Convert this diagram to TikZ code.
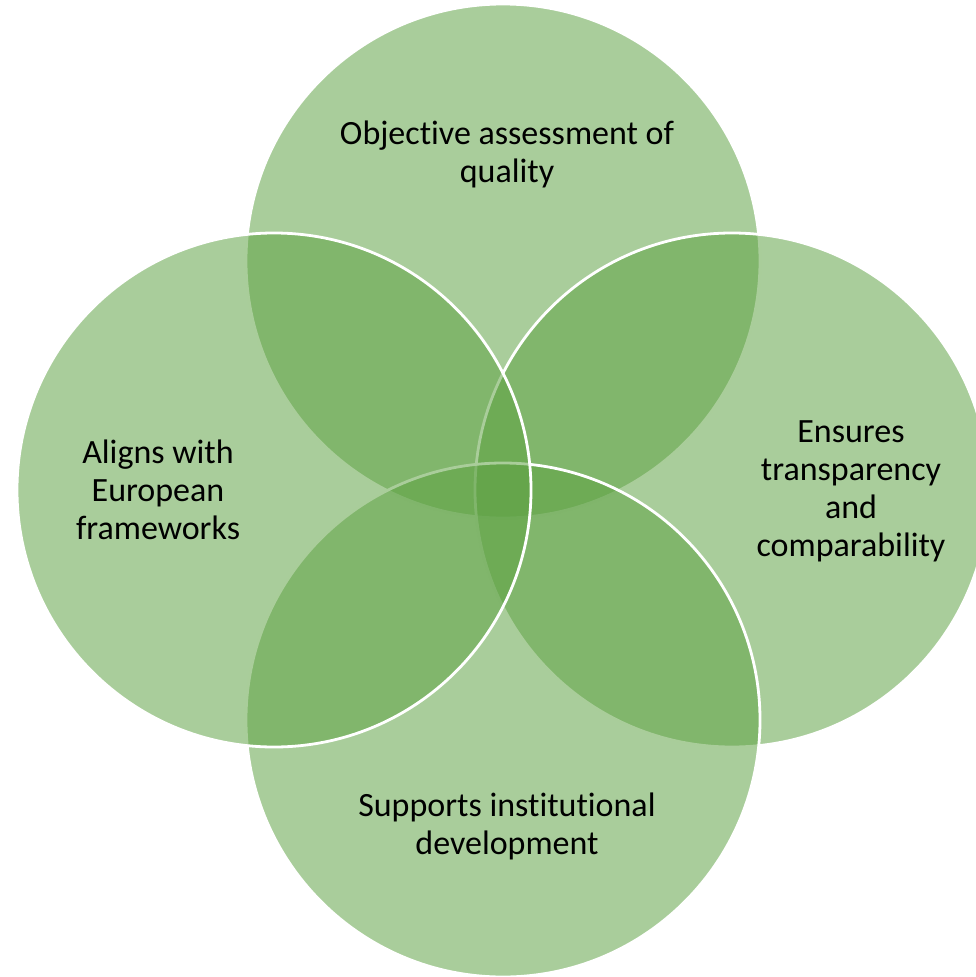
\documentclass[tikz,border=0pt]{standalone}
\usepackage{fontspec}
\setmainfont[Ligatures=NoCommon]{Carlito}
\definecolor{vgreen}{RGB}{93,161,66}
\tikzset{
  venn/.style={circle, fill=vgreen, fill opacity=0.53, draw=white, draw opacity=1, line width=2.8pt, minimum size=514pt, inner sep=0pt},
  lbl/.style={align=center, text=black, font=\fontsize{34}{38}\selectfont, inner sep=0pt}
}
\begin{document}
\begin{tikzpicture}[x=1pt,y=-1pt]
\useasboundingbox (0,0) rectangle (975,977);
\node[venn] (top) at (503,261) {};
\node[venn] (right) at (732,490) {};
\node[venn] (bottom) at (503,720) {};
\node[venn] (left) at (274,490) {};
\node[lbl] (ttop) at (507,154) {Objective assessment of\\quality};
\node[lbl] (tleft) at (158,490) {Aligns with\\European\\frameworks};
\node[lbl] (tright) at (851,491) {Ensures\\transparency\\and\\comparability};
\node[lbl] (tbottom) at (507,826) {Supports institutional\\development};
\end{tikzpicture}
\end{document}
